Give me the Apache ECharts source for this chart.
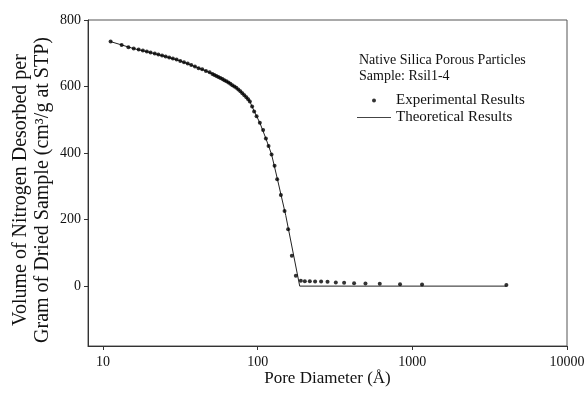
<!DOCTYPE html>
<html>
<head>
<meta charset="utf-8">
<script src="https://cdn.jsdelivr.net/npm/echarts@6/dist/echarts.min.js"></script>
<style>
  html, body { margin: 0; padding: 0; background: #fff; }
  #chart { width: 585px; height: 397px; }
</style>
</head>
<body>
<div id="chart"></div>
<script>
// Pore diameter (Å) and desorbed nitrogen volume (cm³/g at STP)
const experimentalDiameter = [
  11.2, 13.2, 14.6, 15.8, 17.0, 18.1, 19.2, 20.3, 21.6, 22.8,
  24.1, 25.4, 26.8, 28.3, 29.9, 31.6, 33.4, 35.3, 37.2, 39.3,
  41.5, 43.8, 46.3, 48.9, 51.0, 52.5, 54.1, 55.7, 57.4, 59.2,
  60.9, 62.8, 64.7, 66.6, 68.6, 70.7, 72.8, 75.0, 77.3, 79.6,
  82.0, 84.5, 86.8, 89.0, 92.1, 94.9, 98.4, 103.3, 108.5, 113.0,
  117.6, 123.0, 128.6, 133.7, 141.3, 149.2, 157.4, 166.3, 176.5, 190.1,
  201.8, 217.4, 235.2, 257.2, 282.9, 320.1, 362.2, 420.2, 497.7, 615.9,
  832.7, 1155.6, 4055
];
const experimentalVolume = [
  735, 725, 718, 714, 711, 708, 705, 702, 699, 696,
  693, 690, 687, 684, 681, 677, 673, 669, 665, 660,
  655, 652, 647, 643, 638, 635, 632, 629, 626, 623,
  619, 616, 612, 608, 604, 600, 596, 591, 586, 580,
  574, 568, 562, 555, 540, 525, 511, 491, 469, 444,
  421, 396, 362, 321, 274, 226, 171, 91, 31, 16,
  15, 15, 14, 14, 13, 11, 10, 9, 8, 7,
  6, 5, 3
];

const theoreticalDiameter = [
  11.2, 15.8, 20.3, 25.4, 31.6, 39.3, 46.3, 54.1, 62.8, 70.7,
  77.3, 84.5, 89.0, 94.9, 103.3, 113.0, 123.0, 133.7, 141.3, 152,
  187, 4055
];
const theoreticalVolume = [
  735, 714, 702, 690, 677, 660, 647, 632, 616, 600,
  586, 568, 555, 526, 491, 444, 396, 325, 276, 212,
  0, 0
];

const xTicks = [10, 100, 1000, 10000];
const yTicks = [0, 200, 400, 600, 800];

const titleLines = ['Native Silica Porous Particles', 'Sample: Rsil1-4'];
const seriesNames = ['Experimental Results', 'Theoretical Results'];

const FONT = '"Liberation Serif", "Times New Roman", serif';
const INK = '#111';

const pairs = (xs, ys) => xs.map((x, i) => [x, ys[i]]);

const chart = echarts.init(document.getElementById('chart'), null, { renderer: 'canvas' });

chart.setOption({
  animation: false,
  backgroundColor: '#fff',
  textStyle: { fontFamily: FONT, color: INK },
  title: {
    text: titleLines.join('\n'),
    left: 359,
    top: 52,
    padding: 0,
    textStyle: { fontFamily: FONT, fontSize: 14, fontWeight: 'normal', color: INK, lineHeight: 16 }
  },
  legend: {
    orient: 'vertical',
    left: 357,
    top: 92,
    padding: 0,
    itemGap: 0,
    itemWidth: 34,
    itemHeight: 4,
    selectedMode: false,
    textStyle: { fontFamily: FONT, fontSize: 15, color: INK, lineHeight: 17 },
    data: [
      { name: seriesNames[0], icon: 'circle', itemStyle: { color: '#000' } },
      { name: seriesNames[1], icon: 'path://M0,0 L34,0 L34,1 L0,1 Z', itemStyle: { color: '#444' } }
    ]
  },
  grid: {
    left: 88,
    right: 18,
    top: 20,
    bottom: 51,
    show: true,
    borderColor: '#555',
    borderWidth: 1,
    outerBoundsMode: 'none'
  },
  xAxis: {
    type: 'log',
    logBase: 10,
    min: 8,
    max: 10000,
    name: 'Pore Diameter (Å)',
    nameLocation: 'middle',
    nameGap: 24,
    nameMoveOverlap: false,
    nameTextStyle: { fontFamily: FONT, fontSize: 17, color: INK },
    axisLine: { show: true, onZero: false, lineStyle: { color: '#333', width: 1 } },
    axisTick: { show: true, length: 4, customValues: xTicks, lineStyle: { color: '#333' } },
    axisLabel: {
      customValues: xTicks,
      margin: 9,
      fontFamily: FONT,
      fontSize: 14,
      color: INK,
      formatter: v => String(Math.round(v))
    },
    splitLine: { show: false },
    minorTick: { show: false }
  },
  yAxis: {
    type: 'value',
    min: -180,
    max: 800,
    name: 'Volume of Nitrogen Desorbed per\nGram of Dried Sample (cm³/g at STP)',
    nameLocation: 'middle',
    nameRotate: 90,
    nameGap: 34,
    nameMoveOverlap: false,
    nameTextStyle: { fontFamily: FONT, fontSize: 20, color: INK, lineHeight: 22, padding: [0, 14, 0, 0] },
    axisLine: { show: true, onZero: false, lineStyle: { color: '#333', width: 1 } },
    axisTick: { show: true, length: 4, customValues: yTicks, lineStyle: { color: '#333' } },
    axisLabel: {
      customValues: yTicks,
      margin: 7,
      fontFamily: FONT,
      fontSize: 14,
      color: INK
    },
    splitLine: { show: false }
  },
  series: [
    {
      name: seriesNames[0],
      type: 'scatter',
      data: pairs(experimentalDiameter, experimentalVolume),
      symbol: 'circle',
      symbolSize: 4,
      itemStyle: { color: '#000' },
      z: 3
    },
    {
      name: seriesNames[1],
      type: 'line',
      data: pairs(theoreticalDiameter, theoreticalVolume),
      symbol: 'none',
      showSymbol: false,
      lineStyle: { color: '#222', width: 1 },
      itemStyle: { color: '#222' },
      z: 2
    }
  ]
});
</script>
</body>
</html>
